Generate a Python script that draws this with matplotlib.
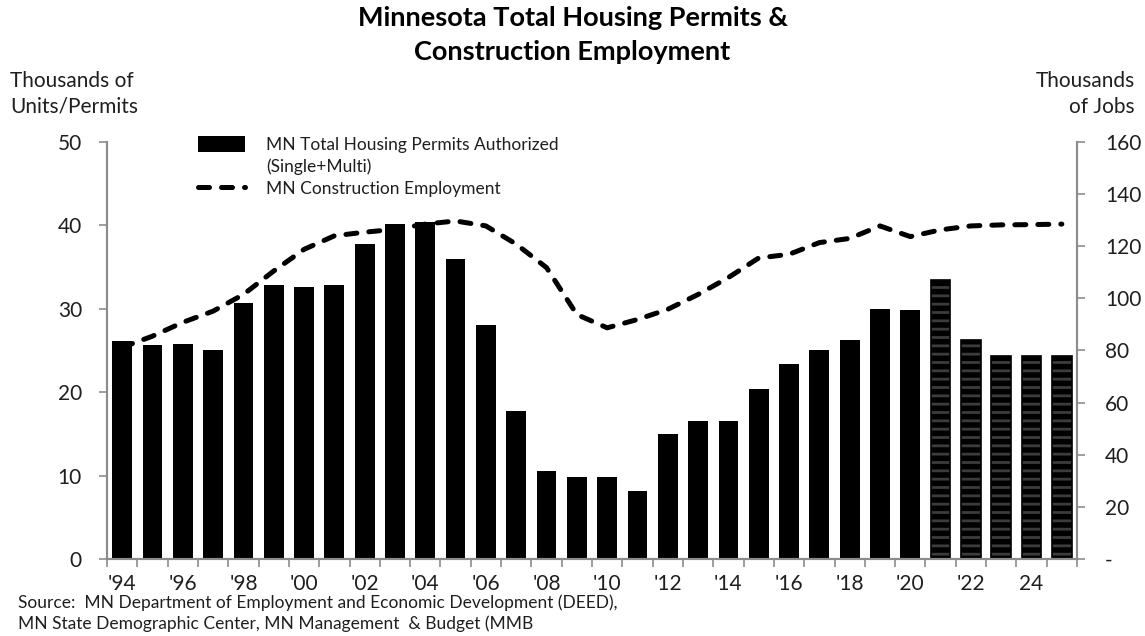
import matplotlib
matplotlib.use("Agg")
import matplotlib.pyplot as plt
import matplotlib.patches as mpatches
import matplotlib.lines as mlines
from matplotlib.ticker import FixedLocator, FuncFormatter
import numpy as np

plt.rcParams["font.family"] = ["Lato", "DejaVu Sans"]
plt.rcParams["hatch.linewidth"] = 2.0

TEXT = "#1f1f1f"
SPINE = "#8c8c8c"
STRIPE = "#3c3c3c"

# --- data (thousands) ---
years = list(range(1994, 2026))
permits = [26.1, 25.7, 25.8, 25.1, 30.7, 32.8, 32.6, 32.8, 37.8, 40.2,
           40.4, 36.0, 28.1, 17.8, 10.5, 9.8, 9.8, 8.2, 15.0, 16.6,
           16.6, 20.4, 23.4, 25.1, 26.2, 30.0, 29.8, 33.5, 26.3, 24.4,
           24.3, 24.3]
employment = [81.2, 85.5, 90.8, 95.1, 101.5, 110.5, 118.8, 124.0, 125.4, 126.5,
              128.5, 129.7, 127.8, 120.8, 111.8, 93.8, 88.7, 91.9, 95.8, 101.5,
              108.0, 115.5, 116.9, 121.4, 123.0, 127.8, 123.7, 126.3, 127.8, 128.2,
              128.3, 128.5]
first_forecast = 2021
xtick_years = list(range(1994, 2025, 2))
xtick_labels = ["'94", "'96", "'98", "'00", "'02", "'04", "'06", "'08", "'10",
                "'12", "'14", "'16", "'18", "'20", "'22", "24"]

x = np.arange(len(years))
actual = [i for i, yr in enumerate(years) if yr < first_forecast]
fcst = [i for i, yr in enumerate(years) if yr >= first_forecast]

fig = plt.figure(figsize=(11.45, 6.36), dpi=100)
ax = fig.add_axes([107 / 1145, 1 - 559 / 636, (1077 - 107) / 1145, (559 - 142) / 636])
ax2 = ax.twinx()

BAR_W = 0.65
ax.bar(x[actual], [permits[i] for i in actual], width=BAR_W, color="black",
       edgecolor="none", zorder=2)
# forecast years: black with dark-grey horizontal stripes
ax.bar(x[fcst], [permits[i] for i in fcst], width=BAR_W, color="black",
       edgecolor=STRIPE, linewidth=0, hatch="--", zorder=2)
ax.bar(x[fcst], [permits[i] for i in fcst], width=BAR_W, color="none",
       edgecolor="black", linewidth=1.2, zorder=3)

ax2.plot(x, employment, color="black", lw=3.6, ls=(0, (2.2, 2.4)),
         dash_capstyle="round", solid_capstyle="round", zorder=4)

ax.set_xlim(-0.5, len(years) - 0.5)
ax.set_ylim(0, 50)
ax2.set_ylim(0, 160)
ax.set_yticks(range(0, 51, 10))
ax2.set_yticks(range(0, 161, 20))
ax2.yaxis.set_major_formatter(FuncFormatter(lambda v, p: "-" if v == 0 else f"{v:.0f}"))

ax.set_xticks([years.index(yr) for yr in xtick_years])
ax.set_xticklabels(xtick_labels)
ax.xaxis.set_minor_locator(FixedLocator(np.arange(-0.5, len(years), 1.0)))
ax.tick_params(axis="x", which="major", length=0, pad=11, labelsize=15, labelcolor=TEXT)
ax.tick_params(axis="x", which="minor", length=6, width=1.2, color=SPINE, direction="out")
ax.tick_params(axis="y", length=6, width=1.2, color=SPINE, pad=12, labelsize=15,
               labelcolor=TEXT, direction="out")
ax2.tick_params(axis="y", length=6, width=1.2, color=SPINE, pad=14, labelsize=15,
                labelcolor=TEXT, direction="out")

for a in (ax, ax2):
    a.spines["top"].set_visible(False)
    for s in ("left", "right", "bottom"):
        a.spines[s].set_color(SPINE)
        a.spines[s].set_linewidth(1.5)

fig.text(0.5, 0.99, "Minnesota Total Housing Permits &\nConstruction Employment",
         ha="center", va="top", fontsize=19.5, fontweight="bold", color="black",
         linespacing=1.5)
fig.text(10 / 1145, 1 - 71 / 636, "Thousands of\nUnits/Permits", ha="left", va="top",
         fontsize=15, color=TEXT, linespacing=1.35)
fig.text(1135 / 1145, 1 - 71 / 636, "Thousands\nof Jobs", ha="right", va="top",
         fontsize=15, color=TEXT, linespacing=1.35, multialignment="right")
fig.text(18 / 1145, 1 - 594 / 636,
         "Source:  MN Department of Employment and Economic Development (DEED),\n"
         "MN State Demographic Center, MN Management  & Budget (MMB",
         ha="left", va="top", fontsize=12.5, color=TEXT, linespacing=1.35)

handles = [
    mpatches.Patch(facecolor="black", edgecolor="none"),
    mpatches.Patch(facecolor="none", edgecolor="none"),
    mlines.Line2D([], [], color="black", lw=3.6, ls=(0, (2.2, 2.4)),
                  dash_capstyle="round"),
]
labels = ["MN Total Housing Permits Authorized", "(Single+Multi)",
          "MN Construction Employment"]
leg = ax2.legend(handles, labels, loc="upper left", bbox_to_anchor=(0.087, 1.03),
                 frameon=False, fontsize=12.5, handlelength=2.7, handleheight=1.0,
                 handletextpad=1.2, labelspacing=0.3, borderaxespad=0)
for t in leg.get_texts():
    t.set_color(TEXT)

fig.savefig("out.png", dpi=100, facecolor="white")
